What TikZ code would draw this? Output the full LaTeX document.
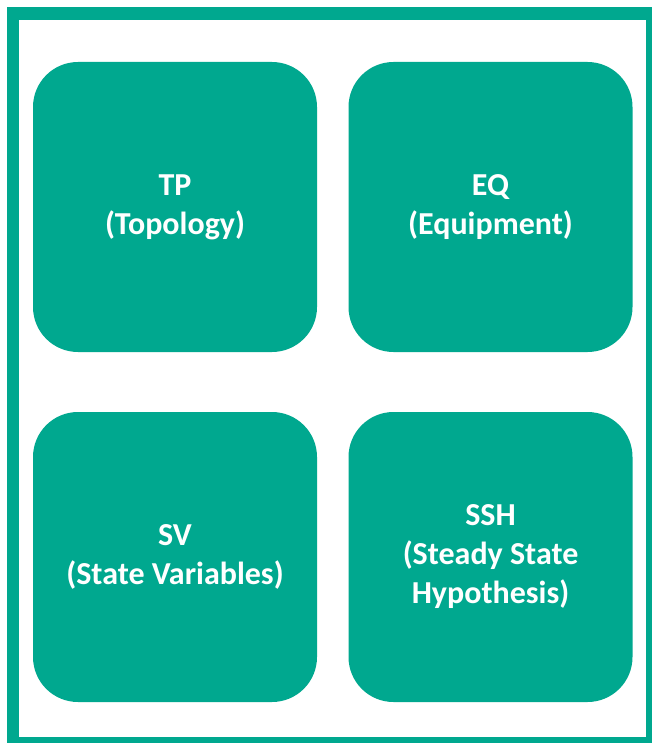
\documentclass[tikz,border=0pt]{standalone}
\usepackage{fontspec}
\setmainfont{Carlito}
\definecolor{teal}{RGB}{0,168,143}
\begin{document}
\begin{tikzpicture}[x=1pt,y=-1pt]
            \useasboundingbox (0,0) rectangle (652,749);
            % frame
            \fill[teal] (7,7) rectangle (652,743);
            \fill[white] (19,20) rectangle (646,737);
            \begin{scope}[every node/.style={fill=teal,rounded corners=45pt,minimum width=284pt,minimum height=290pt,inner sep=0pt,align=center,text=white,font=\fontsize{32}{39}\selectfont\bfseries}]
                \node (TP) at (175,207) {TP\\(Topology)};
                \node (EQ) at (490.5,207) {EQ\\(Equipment)};

                \node (SV) at (175,557) {SV\\(State Variables)};

                \node (SSH) at (490.5,557) {SSH\\(Steady State\\Hypothesis)};
            \end{scope}
            \end{tikzpicture}
\end{document}
